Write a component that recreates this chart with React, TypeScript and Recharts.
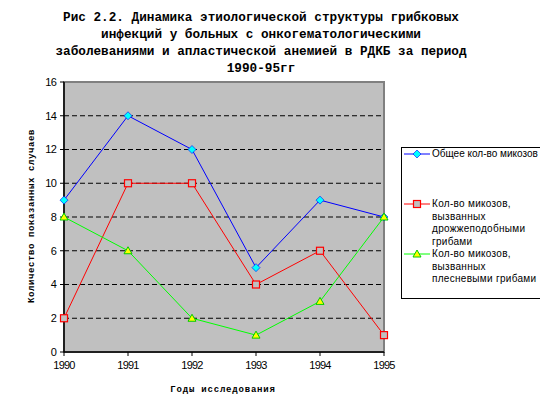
import { Line, LineChart, ReferenceArea, ReferenceLine, XAxis, YAxis } from 'recharts';

const years = ['1990', '1991', '1992', '1993', '1994', '1995'];
const totalMycoses = [9, 14, 12, 5, 9, 8];
const yeastMycoses = [2, 10, 10, 4, 6, 1];
const mouldMycoses = [8, 6, 2, 1, 3, 8];
const yTicks = [0, 2, 4, 6, 8, 10, 12, 14, 16];
const gridValues = [2, 4, 6, 8, 10, 12, 14];

const titleLines = [
  'Рис 2.2. Динамика этиологической структуры грибковых',
  'инфекций у больных с онкогематологическими',
  'заболеваниями и апластической анемией в РДКБ за период',
  '1990-95гг',
];

const data = years.map((year, i) => ({
  year,
  total: totalMycoses[i],
  yeast: yeastMycoses[i],
  mould: mouldMycoses[i],
}));

const TICK = { fontSize: 11, fill: '#000', fontFamily: 'Arial, "Liberation Sans", sans-serif', letterSpacing: -0.8 };

function Diamond({ cx, cy }: any) {
  if (cx == null || cy == null) return null;
  return (
    <path
      d={`M${cx},${cy - 4}L${cx + 4},${cy}L${cx},${cy + 4}L${cx - 4},${cy}Z`}
      fill="#00ffff"
      stroke="#0000ff"
      strokeWidth={0.6}
    />
  );
}

function Square({ cx, cy }: any) {
  if (cx == null || cy == null) return null;
  return <rect x={cx - 3.5} y={cy - 3.5} width={7} height={7} fill="#c0c0c0" stroke="#ff0000" strokeWidth={1.2} />;
}

function Triangle({ cx, cy }: any) {
  if (cx == null || cy == null) return null;
  return (
    <path
      d={`M${cx},${cy - 4}L${cx + 4},${cy + 3}L${cx - 4},${cy + 3}Z`}
      fill="#ffff00"
      stroke="#00cc00"
      strokeWidth={1}
    />
  );
}

const legendItems = [
  { color: '#0000ff', marker: 'diamond', lines: ['Общее кол-во микозов'], top: 148, spacing: 0 },
  { color: '#ff0000', marker: 'square', lines: ['Кол-во микозов,', 'вызванных', 'дрожжеподобными', 'грибами'], top: 198, spacing: 0.3 },
  { color: '#00ff00', marker: 'triangle', lines: ['Кол-во микозов,', 'вызванных', 'плесневыми грибами'], top: 248, spacing: 0.3 },
];

function LegendMarker({ marker, color }: { marker: string; color: string }) {
  return (
    <svg width={28} height={12} style={{ position: 'absolute', left: 0, top: 0 }}>
      <line x1={1} y1={6} x2={27} y2={6} stroke={color} strokeWidth={1} />
      {marker === 'diamond' && <Diamond cx={14} cy={6} />}
      {marker === 'square' && <Square cx={14} cy={6} />}
      {marker === 'triangle' && <Triangle cx={14} cy={6} />}
    </svg>
  );
}

export default function App() {
  return (
    <div style={{ position: 'relative', width: 540, height: 397, background: '#fff', overflow: 'hidden' }}>
      <style>{'body{margin:0}'}</style>
      <div
        style={{
          position: 'absolute',
          left: 0,
          top: 9,
          width: 522,
          textAlign: 'center',
          fontFamily: '"Liberation Mono", "Courier New", monospace',
          fontWeight: 'bold',
          fontSize: 12.7,
          lineHeight: '17px',
          color: '#000',
        }}
      >
        {titleLines.map((l) => (
          <div key={l}>{l}</div>
        ))}
      </div>

      <LineChart
        width={540}
        height={397}
        data={data}
        margin={{ top: 82, right: 156, bottom: 15, left: 0 }}
        style={{ position: 'absolute', left: 0, top: 0 }}
      >
        <ReferenceArea
          x1="1990"
          x2="1995"
          y1={0}
          y2={16}
          fill="#c0c0c0"
          fillOpacity={1}
          stroke="#808080"
          strokeWidth={2}
        />
        {gridValues.map((v) => (
          <ReferenceLine key={v} y={v} stroke="#000" strokeDasharray="5 3" strokeWidth={1} />
        ))}
        <XAxis
          dataKey="year"
          height={30}
          tick={TICK}
          tickLine={{ stroke: '#000' }}
          axisLine={{ stroke: '#000', strokeWidth: 1.5 }}
          tickSize={4}
          tickMargin={5}
          interval={0}
        />
        <YAxis
          width={64}
          domain={[0, 16]}
          ticks={yTicks}
          tick={TICK}
          tickLine={{ stroke: '#000' }}
          axisLine={{ stroke: '#000', strokeWidth: 1.5 }}
          tickSize={4}
          tickMargin={4}
          interval={0}
        />
        <Line
          dataKey="total"
          stroke="#0000ff"
          strokeWidth={1}
          dot={<Diamond />}
          activeDot={false}
          isAnimationActive={false}
        />
        <Line
          dataKey="yeast"
          stroke="#ff0000"
          strokeWidth={1}
          dot={<Square />}
          activeDot={false}
          isAnimationActive={false}
        />
        <Line
          dataKey="mould"
          stroke="#00ff00"
          strokeWidth={1}
          dot={<Triangle />}
          activeDot={false}
          isAnimationActive={false}
        />
      </LineChart>

      <div
        style={{
          position: 'absolute',
          left: 32,
          top: 216,
          transform: 'translate(-50%, -50%) rotate(-90deg)',
          whiteSpace: 'nowrap',
          fontFamily: '"Liberation Mono", "Courier New", monospace',
          fontWeight: 'bold',
          fontSize: 9,
          letterSpacing: 0.6,
        }}
      >
        Количество показанных случаев
      </div>
      <div
        style={{
          position: 'absolute',
          left: 223,
          top: 390,
          transform: 'translate(-50%, -50%)',
          whiteSpace: 'nowrap',
          fontFamily: '"Liberation Mono", "Courier New", monospace',
          fontWeight: 'bold',
          fontSize: 9,
          letterSpacing: 0.8,
        }}
      >
        Годы исследования
      </div>

      <div
        style={{
          position: 'absolute',
          left: 401,
          top: 147,
          width: 160,
          height: 150,
          border: '1px solid #000',
          background: '#fff',
        }}
      />
      {legendItems.map((item) => (
        <div key={item.color} style={{ position: 'absolute', left: 403, top: item.top, width: 137 }}>
          <LegendMarker marker={item.marker} color={item.color} />
          <div
            style={{
              position: 'absolute',
              left: 29,
              top: 0,
              fontFamily: 'Arial, "Liberation Sans", sans-serif',
              fontSize: 10,
              lineHeight: '12.5px',
              letterSpacing: item.spacing,
              whiteSpace: 'nowrap',
              color: '#000',
            }}
          >
            {item.lines.map((l) => (
              <div key={l}>{l}</div>
            ))}
          </div>
        </div>
      ))}
    </div>
  );
}
